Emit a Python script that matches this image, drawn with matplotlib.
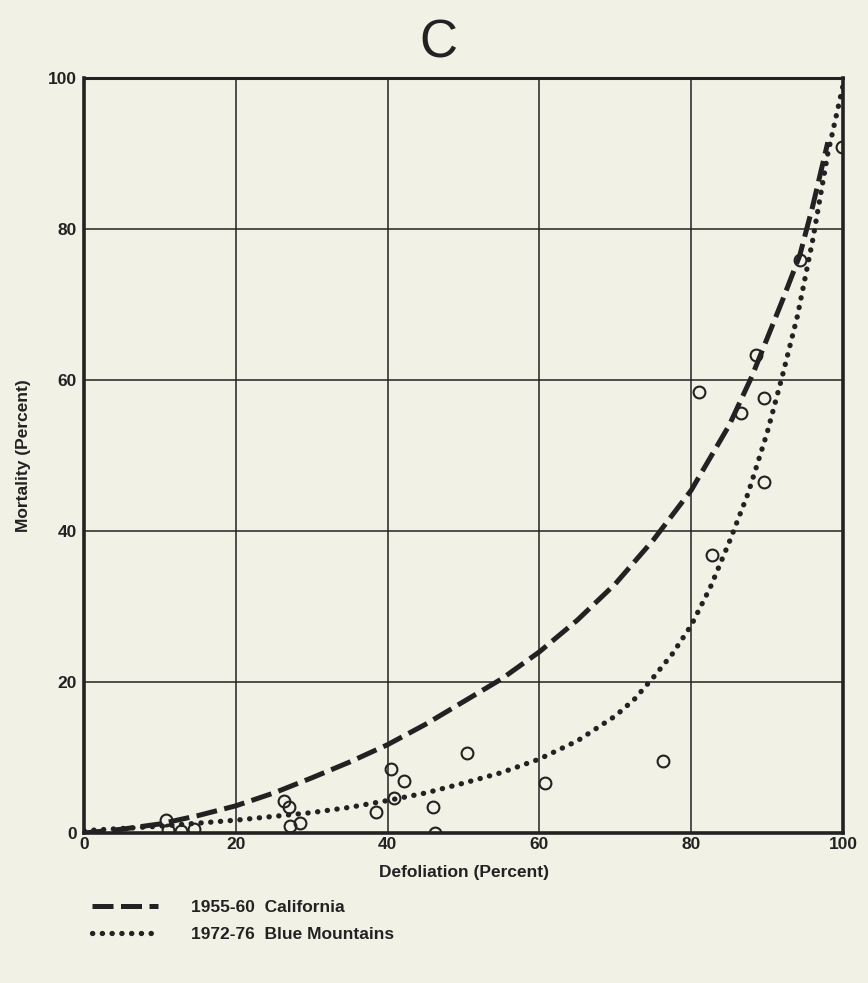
import numpy as np
import matplotlib.pyplot as plt
from matplotlib.lines import Line2D

# observed plots: defoliation vs. mortality (percent)
defol = [10.8, 11.1, 12.8, 14.5, 26.3, 27.0, 27.1, 28.4,
         38.5, 40.4, 40.9, 42.2, 46.0, 46.3, 50.5, 60.8, 76.3,
         81.0, 82.7, 86.6, 88.5, 89.6, 89.6, 94.4, 99.9]
mort = [1.7, 0.4, 0.2, 0.5, 4.2, 3.4, 0.9, 1.3,
        2.8, 8.5, 4.6, 6.9, 3.4, 0.0, 10.6, 6.6, 9.5,
        58.4, 36.8, 55.6, 63.3, 57.6, 46.5, 75.9, 90.9]

# fitted curve, 1955-60 California
cal_x = [0, 5, 10, 15, 20, 25, 30, 35, 40, 45, 50, 55, 60, 65, 70, 75,
         80, 85, 88, 90, 92, 94.3, 96, 98]
cal_y = [0, 0.5, 1.2, 2.3, 3.6, 5.3, 7.3, 9.4, 11.7, 14.4, 17.4, 20.4,
         24.0, 28.2, 33.0, 38.8, 45.4, 54.0, 60.5, 65.5, 70.5, 76.5, 83.0, 91.5]

# fitted curve, 1972-76 Blue Mountains
blu_x = [0, 5, 10, 15, 20, 25, 30, 35, 40, 45, 50, 55, 60, 65, 70, 72.5,
         75, 77.5, 80, 82.5, 85, 87.5, 90, 92, 94, 96, 98, 100]
blu_y = [0.3, 0.6, 0.9, 1.3, 1.7, 2.2, 2.7, 3.4, 4.3, 5.3, 6.6, 8.0,
         9.8, 12.2, 15.5, 17.7, 20.6, 23.7, 27.5, 32.5, 38.5, 45.0, 53.0,
         60.5, 68.5, 78.5, 90.0, 99.0]

bg = '#f1f1e6'
ink = '#222222'
dash_style = (0, (4.2, 1.5))
dot_style = (0, (0.05, 1.8))

plt.rcParams['font.family'] = ['Liberation Sans', 'DejaVu Sans']
fig = plt.figure(figsize=(8.68, 9.83), dpi=100, facecolor=bg)
ax = fig.add_axes([0.0968, 0.1526, 0.8744, 0.768])
ax.set_facecolor(bg)

ax.plot(cal_x, cal_y, color=ink, lw=3.6, linestyle=dash_style,
        dash_capstyle='butt', zorder=3)
ax.plot(blu_x, blu_y, color=ink, lw=3.8, linestyle=dot_style,
        dash_capstyle='round', zorder=3)
ax.plot(defol, mort, 'o', ms=8.5, mfc='none', mec=ink, mew=1.5, zorder=4)

ax.set_xlim(0, 100)
ax.set_ylim(0, 100)
ax.set_xticks(np.arange(0, 101, 20))
ax.set_yticks(np.arange(0, 101, 20))
ax.grid(True, color=ink, lw=1.1)
ax.set_axisbelow(True)
ax.tick_params(length=0, labelsize=12.5, colors=ink, pad=5)
ax.tick_params(axis='x', pad=3)
for lab in ax.get_xticklabels() + ax.get_yticklabels():
    lab.set_fontweight('bold')
for side, w in [('left', 2.6), ('bottom', 2.6), ('top', 2.2), ('right', 2.6)]:
    ax.spines[side].set_linewidth(w)
    ax.spines[side].set_color(ink)

ax.set_xlabel('Defoliation (Percent)', fontsize=12.5, fontweight='bold',
              color=ink, labelpad=9)
ax.set_ylabel('Mortality (Percent)', fontsize=12.5, fontweight='bold',
              color=ink, labelpad=12)
fig.text(0.505, 0.956, 'C', fontsize=38, color=ink, ha='center', va='center')

handles = [Line2D([], [], color=ink, lw=3.6, linestyle=dash_style),
           Line2D([], [], color=ink, lw=3.8, linestyle=dot_style,
                  dash_capstyle='round')]
labels = ['1955-60  California', '1972-76  Blue Mountains']
leg = fig.legend(handles, labels, loc='upper left', bbox_to_anchor=(0.088, 0.1),
                 frameon=False, handlelength=3.8, handletextpad=1.9,
                 labelspacing=0.65, prop={'size': 12.5, 'weight': 'bold'})
for t in leg.get_texts():
    t.set_color(ink)

fig.savefig('out.png', dpi=100, facecolor=bg)
